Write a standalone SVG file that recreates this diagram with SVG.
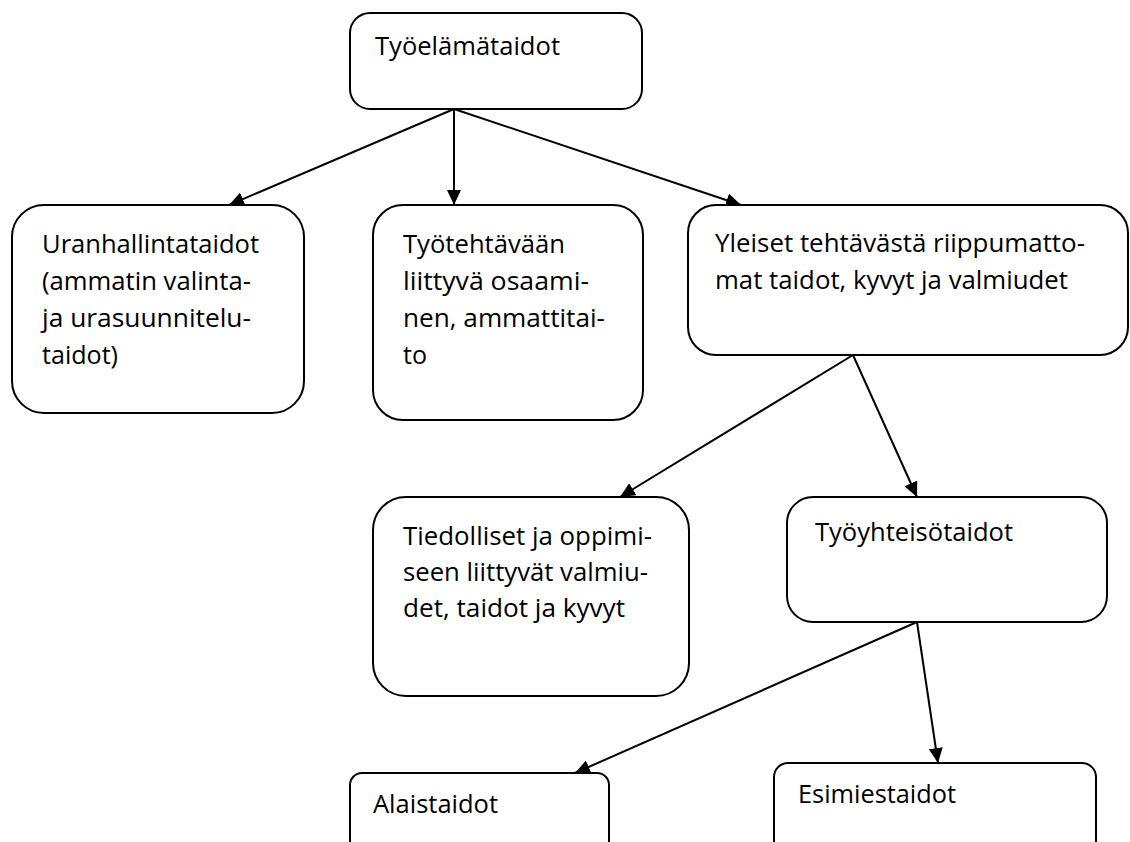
<svg xmlns="http://www.w3.org/2000/svg" width="1130" height="842" viewBox="0 0 1130 842">
<style>
  .box { fill: #ffffff; stroke: #000000; stroke-width: 2; }
  .lbl { font-family: "Open Sans", "Noto Sans", "Liberation Sans", sans-serif; font-size: 25px; fill: #000000; }
  .cn line { stroke: #000000; stroke-width: 2; marker-end: url(#arr); }
</style>
<defs>
  <marker id="arr" markerUnits="userSpaceOnUse" markerWidth="16" markerHeight="14" refX="15" refY="7" orient="auto">
    <path d="M0,0 L15,7 L0,14 z" fill="#000000"/>
  </marker>
</defs>
<rect x="0" y="0" width="1130" height="842" fill="#ffffff"/>
<g id="connectors" class="cn">
  <line x1="454" y1="109" x2="229" y2="205"/>
  <line x1="454" y1="109" x2="454" y2="205"/>
  <line x1="454" y1="109" x2="741" y2="205"/>
  <line x1="853" y1="355" x2="620" y2="497"/>
  <line x1="853" y1="355" x2="917" y2="497"/>
  <line x1="917" y1="622" x2="575" y2="773"/>
  <line x1="917" y1="622" x2="938" y2="763"/>
</g>
<g id="tyoelamataidot">
  <rect class="box" x="350" y="13" width="292" height="96" rx="20"/>
  <text class="lbl" x="375" y="55" textLength="185" lengthAdjust="spacingAndGlyphs">Työelämätaidot</text>
</g>
<g id="uranhallintataidot">
  <rect class="box" x="12" y="205" width="292" height="208" rx="32"/>
  <text class="lbl" x="42" y="253" textLength="217" lengthAdjust="spacingAndGlyphs">Uranhallintataidot</text>
  <text class="lbl" x="42" y="290" textLength="209" lengthAdjust="spacingAndGlyphs">(ammatin valinta-</text>
  <text class="lbl" x="42" y="327" textLength="209" lengthAdjust="spacingAndGlyphs">ja urasuunnitelu-</text>
  <text class="lbl" x="42" y="364" textLength="76" lengthAdjust="spacingAndGlyphs">taidot)</text>
</g>
<g id="tyotehtavaan">
  <rect class="box" x="373" y="205" width="270" height="215" rx="30"/>
  <text class="lbl" x="403" y="253" textLength="162" lengthAdjust="spacingAndGlyphs">Työtehtävään</text>
  <text class="lbl" x="403" y="290" textLength="186" lengthAdjust="spacingAndGlyphs">liittyvä osaami-</text>
  <text class="lbl" x="403" y="327" textLength="202" lengthAdjust="spacingAndGlyphs">nen, ammattitai-</text>
  <text class="lbl" x="403" y="364" textLength="24" lengthAdjust="spacingAndGlyphs">to</text>
</g>
<g id="yleiset">
  <rect class="box" x="688" y="205" width="440" height="150" rx="28"/>
  <text class="lbl" x="715" y="252" textLength="370" lengthAdjust="spacingAndGlyphs">Yleiset tehtävästä riippumatto-</text>
  <text class="lbl" x="715" y="289" textLength="353" lengthAdjust="spacingAndGlyphs">mat taidot, kyvyt ja valmiudet</text>
</g>
<g id="tiedolliset">
  <rect class="box" x="373" y="497" width="316" height="199" rx="33"/>
  <text class="lbl" x="403" y="545" textLength="249" lengthAdjust="spacingAndGlyphs">Tiedolliset ja oppimi-</text>
  <text class="lbl" x="403" y="581" textLength="245" lengthAdjust="spacingAndGlyphs">seen liittyvät valmiu-</text>
  <text class="lbl" x="403" y="617" textLength="222" lengthAdjust="spacingAndGlyphs">det, taidot ja kyvyt</text>
</g>
<g id="tyoyhteisotaidot">
  <rect class="box" x="787" y="497" width="320" height="125" rx="26"/>
  <text class="lbl" x="815" y="541" textLength="198" lengthAdjust="spacingAndGlyphs">Työyhteisötaidot</text>
</g>
<g id="alaistaidot">
  <rect class="box" x="350" y="773" width="259" height="90" rx="12"/>
  <text class="lbl" x="373" y="813" textLength="125" lengthAdjust="spacingAndGlyphs">Alaistaidot</text>
</g>
<g id="esimiestaidot">
  <rect class="box" x="774" y="763" width="322" height="100" rx="14"/>
  <text class="lbl" x="798" y="803" textLength="158" lengthAdjust="spacingAndGlyphs">Esimiestaidot</text>
</g>
</svg>
